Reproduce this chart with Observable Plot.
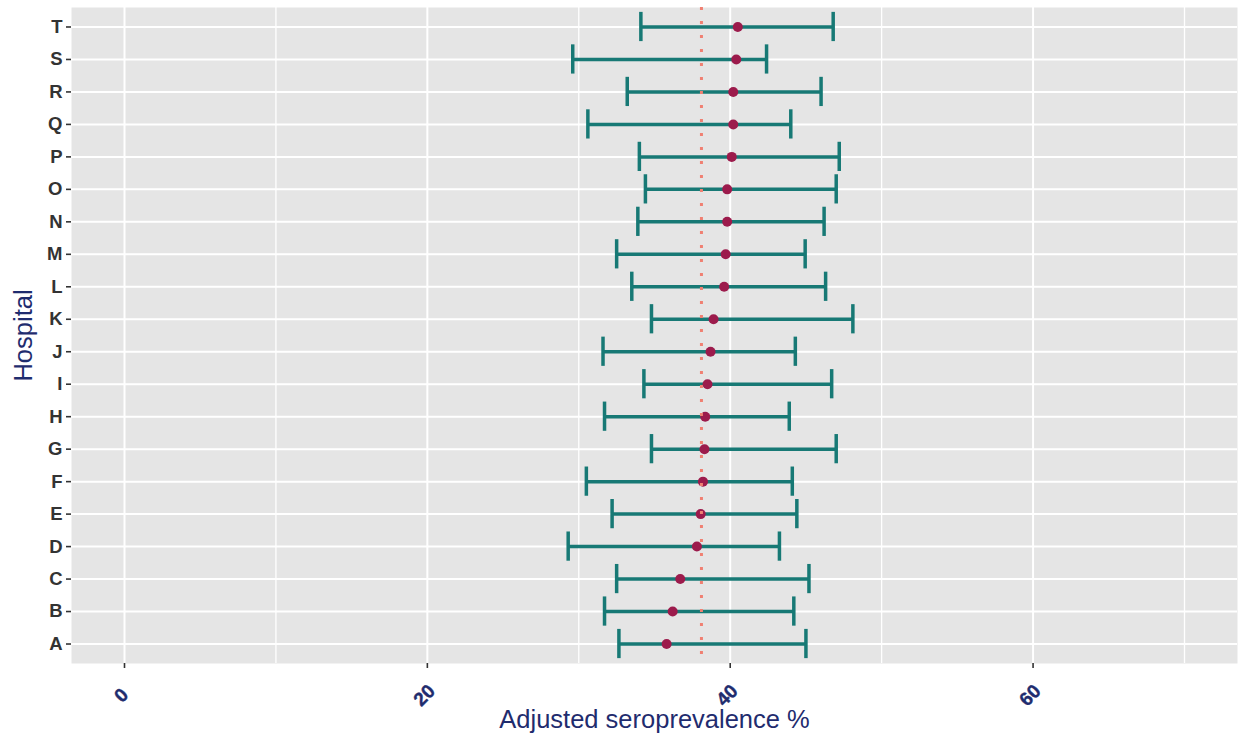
<!DOCTYPE html>
<html>
<head>
<meta charset="utf-8">
<script src="https://cdn.jsdelivr.net/npm/d3@7"></script>
<script src="https://cdn.jsdelivr.net/npm/@observablehq/plot@0.6"></script>
<style>
  html, body { margin: 0; padding: 0; background: #ffffff; }
  #chart { width: 1238px; height: 734px; }
</style>
</head>
<body>
<div id="chart"></div>
<script>
const hospitals = ["A","B","C","D","E","F","G","H","I","J","K","L","M","N","O","P","Q","R","S","T"];
const estimate  = [35.8, 36.2, 36.7, 37.8, 38.05, 38.2, 38.3, 38.35, 38.5, 38.7, 38.9, 39.6, 39.7, 39.8, 39.8, 40.1, 40.2, 40.2, 40.4, 40.5];
const lower     = [32.65, 31.7, 32.5, 29.3, 32.2, 30.5, 34.8, 31.7, 34.3, 31.6, 34.8, 33.5, 32.5, 33.9, 34.4, 34.0, 30.6, 33.2, 29.6, 34.1];
const upper     = [45.0, 44.2, 45.2, 43.25, 44.4, 44.1, 47.0, 43.9, 46.7, 44.3, 48.1, 46.3, 44.95, 46.2, 47.0, 47.2, 44.0, 46.0, 42.4, 46.8];
const overall   = 38.1;
const xTicks    = [0, 20, 40, 60];
const xMinor    = [10, 30, 50, 70];
const xDomain   = [-3.5, 73.5];

const data = hospitals.map((h, i) => ({hospital: h, est: estimate[i], lo: lower[i], hi: upper[i]}));

const navy = "#1f2c6e";
const teal = "#177975";
const crimson = "#9c1b4c";

const chart = Plot.plot({
  width: 1238,
  height: 734,
  marginLeft: 71,
  marginRight: 1,
  marginTop: 7,
  marginBottom: 71,
  style: {background: "#ffffff", fontFamily: "'Liberation Sans', Arial, sans-serif"},
  x: {domain: xDomain},
  y: {type: "band", domain: hospitals.slice().reverse(), paddingInner: 0.1, paddingOuter: 0.15, round: false},
  marks: [
    Plot.frame({fill: "#e5e5e5", stroke: null}),
    Plot.gridX(xMinor, {stroke: "#ffffff", strokeOpacity: 1, strokeWidth: 1.3}),
    Plot.gridX(xTicks, {stroke: "#ffffff", strokeOpacity: 1, strokeWidth: 2}),
    Plot.gridY(hospitals, {stroke: "#ffffff", strokeOpacity: 1, strokeWidth: 2}),
    Plot.axisY({tickSize: 5, tickPadding: 4, fontSize: 18.5, fontWeight: "bold", color: "#333333", strokeWidth: 1.6, label: null}),
    Plot.axisX({ticks: xTicks, tickSize: 5, tickFormat: () => "", color: "#333333", strokeWidth: 1.6, label: null}),
    Plot.text(xTicks, {x: d => d, frameAnchor: "bottom", dy: 32, dx: -3, rotate: -45, text: d => String(d),
                       fontSize: 19, fontWeight: 900, fill: navy, stroke: navy, strokeWidth: 0.4, textAnchor: "middle", lineAnchor: "middle"}),
    Plot.text(["Adjusted seroprevalence %"], {frameAnchor: "bottom", dy: 56, fontSize: 25.5, fill: navy, textAnchor: "middle", lineAnchor: "middle"}),
    Plot.text(["Hospital"], {frameAnchor: "left", dx: -48, rotate: -90, fontSize: 25.5, fill: navy, textAnchor: "middle", lineAnchor: "middle"}),
    Plot.ruleY(data, {y: "hospital", x1: "lo", x2: "hi", stroke: teal, strokeWidth: 3.5}),
    Plot.tickX(data, {x: "lo", y: "hospital", stroke: teal, strokeWidth: 3.5}),
    Plot.tickX(data, {x: "hi", y: "hospital", stroke: teal, strokeWidth: 3.5}),
    Plot.dot(data, {x: "est", y: "hospital", r: 5, fill: crimson, stroke: null}),
    Plot.ruleX([overall], {stroke: "#f08072", strokeWidth: 3, strokeDasharray: "3,11"})
  ]
});
document.getElementById("chart").appendChild(chart);
</script>
</body>
</html>
